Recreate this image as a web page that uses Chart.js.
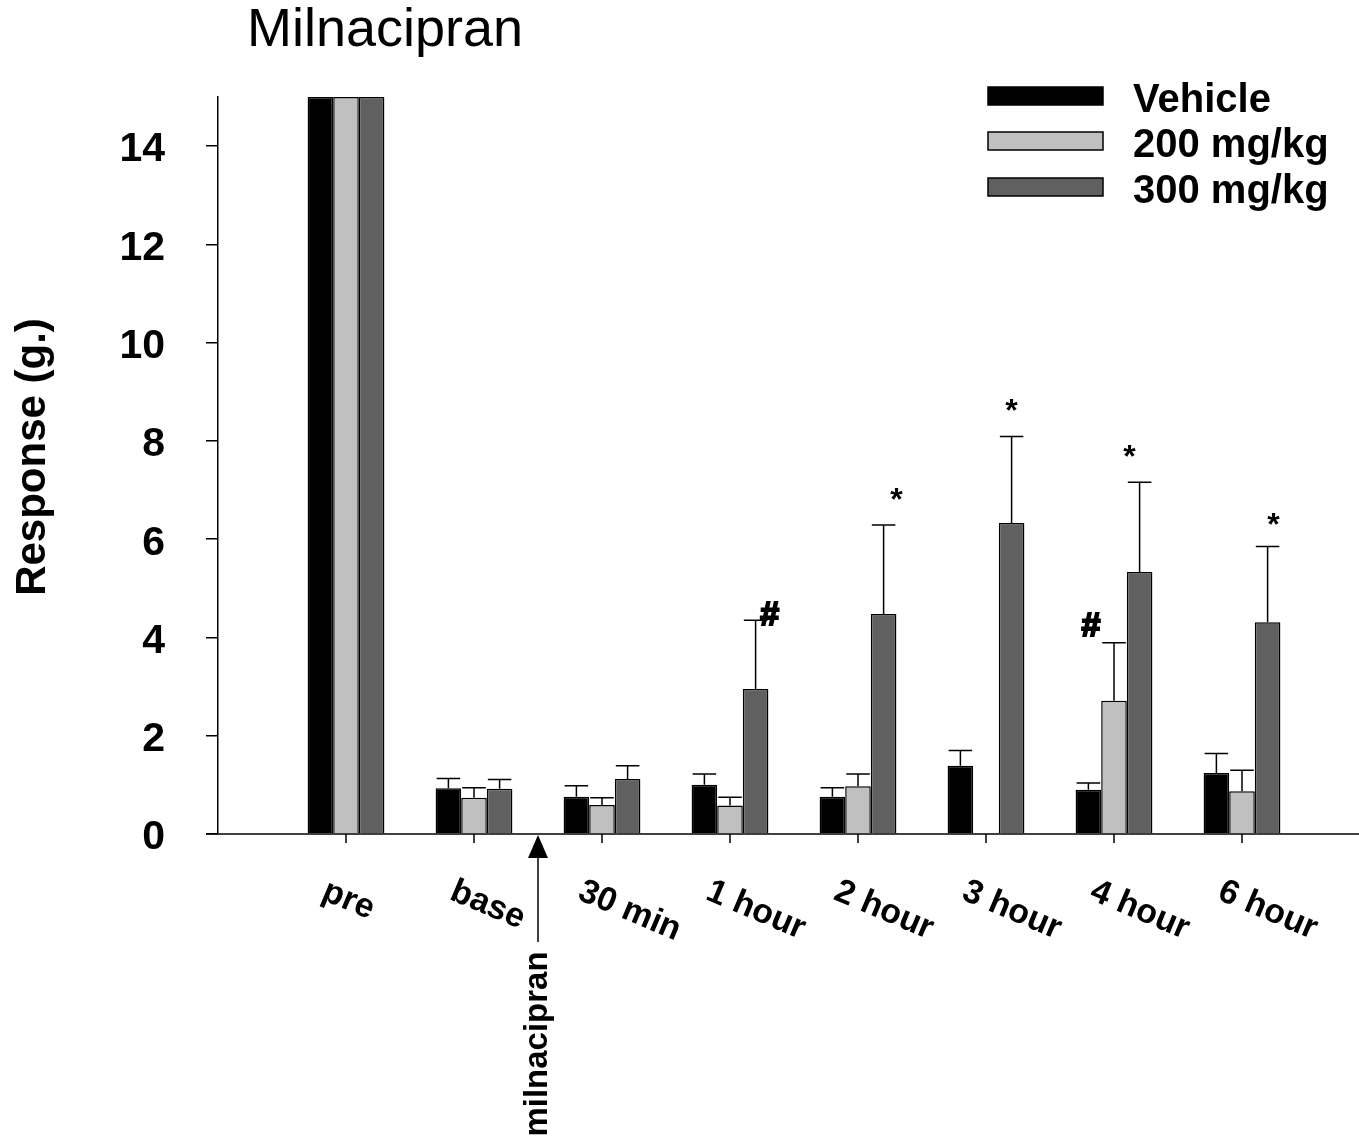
<!DOCTYPE html>
<html>
<head>
<meta charset="utf-8">
<script src="https://cdn.jsdelivr.net/npm/chart.js@4/dist/chart.umd.min.js"></script>
<style>
  html, body { margin: 0; padding: 0; background: #fff; }
  #wrap { width: 1359px; height: 1141px; }
</style>
</head>
<body>
<div id="wrap"><canvas id="chart" width="1359" height="1141"></canvas></div>
<script>
// data
const categories = ['pre', 'base', '30 min', '1 hour', '2 hour', '3 hour', '4 hour', '6 hour'];
const seriesNames = ['Vehicle', '200 mg/kg', '300 mg/kg'];
const vehicle = [15, 0.93, 0.76, 1.00, 0.76, 1.39, 0.90, 1.24];
const vehicleErr = [null, 0.20, 0.22, 0.22, 0.18, 0.31, 0.14, 0.40];
const dose200 = [15, 0.74, 0.59, 0.58, 0.97, null, 2.71, 0.87];
const dose200Err = [null, 0.20, 0.15, 0.17, 0.25, null, 1.18, 0.43];
const dose300 = [15, 0.92, 1.12, 2.95, 4.48, 6.33, 5.33, 4.31];
const dose300Err = [null, 0.19, 0.27, 1.40, 1.81, 1.76, 1.83, 1.54];
const yTicks = [0, 2, 4, 6, 8, 10, 12, 14];
// significance marks: text, series index, category
const markText = ['#', '*', '*', '#', '*', '*'];
const markSeries = [2, 2, 2, 1, 2, 2];
const markCat = ['1 hour', '2 hour', '3 hour', '4 hour', '4 hour', '6 hour'];

const FONT = '"Liberation Sans", Arial, sans-serif';
const colors = ['#000000', '#c0c0c0', '#606060'];
const values = [vehicle, dose200, dose300];
const errors = [vehicleErr, dose200Err, dose300Err];

// leading blank slot so "pre" sits one step right of the y axis
const labels = [''].concat(categories);

const datasets = seriesNames.map((name, i) => ({
    label: name,
    data: [null].concat(values[i]),
    err: [null].concat(errors[i]),
    backgroundColor: colors[i],
    borderColor: '#000',
    borderWidth: 1.5,
    categoryPercentage: 0.6,
    barPercentage: 1.0,
    clip: false
}));

// where each mark sits relative to its error cap
const markDx = [14, 13, 0, -23, -10, 6];
const markDy = [5, 24, 24, 16, 24, 20];

const decor = {
    id: 'decor',
    afterDatasetsDraw(chart) {
        const ctx = chart.ctx;
        const y = chart.scales.y;
        ctx.save();
        ctx.strokeStyle = '#000';
        ctx.lineWidth = 1.5;
        chart.data.datasets.forEach((ds, di) => {
            const meta = chart.getDatasetMeta(di);
            meta.data.forEach((bar, i) => {
                const v = ds.data[i], e = ds.err[i];
                if (v == null || e == null) return;
                const top = y.getPixelForValue(v + e);
                const half = bar.width * 0.46;
                ctx.beginPath();
                ctx.moveTo(bar.x, bar.y);
                ctx.lineTo(bar.x, top);
                ctx.moveTo(bar.x - half, top);
                ctx.lineTo(bar.x + half, top);
                ctx.stroke();
            });
        });
        ctx.restore();
    },
    afterDraw(chart) {
        const ctx = chart.ctx;
        const area = chart.chartArea;
        const x = chart.scales.x;
        const y = chart.scales.y;
        ctx.save();
        ctx.fillStyle = '#000';
        ctx.strokeStyle = '#000';
        ctx.lineWidth = 1.5;

        // x axis line, running past the plot area
        ctx.beginPath();
        ctx.moveTo(area.left - 12, area.bottom);
        ctx.lineTo(chart.width, area.bottom);
        ctx.stroke();

        // x ticks and rotated labels
        categories.forEach((c, i) => {
            const px = x.getPixelForValue(i + 1);
            ctx.beginPath();
            ctx.moveTo(px, area.bottom);
            ctx.lineTo(px, area.bottom + 9);
            ctx.stroke();
            ctx.save();
            ctx.translate(px - 22, area.bottom + 56);
            ctx.rotate(23 * Math.PI / 180);
            ctx.font = 'bold 34px ' + FONT;
            ctx.textAlign = 'left';
            ctx.textBaseline = 'middle';
            ctx.fillText(c, 0, 0);
            ctx.restore();
        });

        // significance marks
        ctx.textAlign = 'center';
        ctx.textBaseline = 'middle';
        markText.forEach((t, k) => {
            const s = markSeries[k];
            const ci = categories.indexOf(markCat[k]) + 1;
            const bar = chart.getDatasetMeta(s).data[ci];
            const ds = chart.data.datasets[s];
            const top = y.getPixelForValue(ds.data[ci] + ds.err[ci]);
            const tx = bar.x + markDx[k], ty = top - markDy[k];
            if (t === '#') {
                ctx.font = 'bold 34px ' + FONT;
                ctx.lineWidth = 2;
                ctx.strokeText(t, tx, ty);
                ctx.fillText(t, tx, ty);
            } else {
                ctx.font = 'bold 32px ' + FONT;
                ctx.fillText(t, tx, ty);
            }
        });
        ctx.lineWidth = 1.5;

        // drug arrow between base and 30 min
        const ax = (x.getPixelForValue(2) + x.getPixelForValue(3)) / 2;
        ctx.beginPath();
        ctx.moveTo(ax, area.bottom + 20);
        ctx.lineTo(ax, area.bottom + 108);
        ctx.stroke();
        ctx.beginPath();
        ctx.moveTo(ax, area.bottom + 1);
        ctx.lineTo(ax - 10, area.bottom + 24);
        ctx.lineTo(ax + 10, area.bottom + 24);
        ctx.closePath();
        ctx.fill();
        ctx.save();
        ctx.translate(ax, area.bottom + 210);
        ctx.rotate(-Math.PI / 2);
        ctx.font = 'bold 33px ' + FONT;
        ctx.textAlign = 'center';
        ctx.textBaseline = 'middle';
        ctx.fillText('milnacipran', 0, 0);
        ctx.restore();

        // title
        ctx.font = '54px ' + FONT;
        ctx.textAlign = 'left';
        ctx.textBaseline = 'middle';
        ctx.fillText('Milnacipran', 247, 31);

        // y axis title
        ctx.save();
        ctx.translate(33, 457);
        ctx.rotate(-Math.PI / 2);
        ctx.font = 'bold 42px ' + FONT;
        ctx.textAlign = 'center';
        ctx.textBaseline = 'middle';
        ctx.fillText('Response (g.)', 0, 0);
        ctx.restore();

        // legend
        const boxY = [87, 132, 178];
        seriesNames.forEach((name, i) => {
            ctx.fillStyle = colors[i];
            ctx.fillRect(988, boxY[i], 115, 18);
            ctx.strokeStyle = '#000';
            ctx.lineWidth = 1.5;
            ctx.strokeRect(988, boxY[i], 115, 18);
            ctx.fillStyle = '#000';
            ctx.font = 'bold 40px ' + FONT;
            ctx.textAlign = 'left';
            ctx.textBaseline = 'middle';
            ctx.fillText(name, 1133, boxY[i] + 14);
        });
        ctx.restore();
    }
};

new Chart(document.getElementById('chart'), {
    type: 'bar',
    data: { labels: labels, datasets: datasets },
    options: {
        responsive: false,
        animation: false,
        layout: { padding: { top: 97, right: 117, left: 0, bottom: 0 } },
        plugins: { legend: { display: false }, tooltip: { enabled: false }, title: { display: false } },
        scales: {
            x: {
                offset: false,
                grid: { display: false },
                border: { display: false },
                ticks: { display: false },
                afterFit(scale) { scale.height = 307; }
            },
            y: {
                min: 0,
                max: 15,
                afterBuildTicks(scale) { scale.ticks = yTicks.map(v => ({ value: v })); },
                afterFit(scale) { scale.width = 218; },
                grid: { drawOnChartArea: false, tickLength: 12, color: '#000', lineWidth: 1.5 },
                border: { display: true, color: '#000', width: 1.5 },
                ticks: {
                    color: '#000',
                    padding: 41,
                    labelOffset: 4,
                    font: { family: FONT, size: 41, weight: 'bold' }
                }
            }
        }
    },
    plugins: [decor]
});
</script>
</body>
</html>
